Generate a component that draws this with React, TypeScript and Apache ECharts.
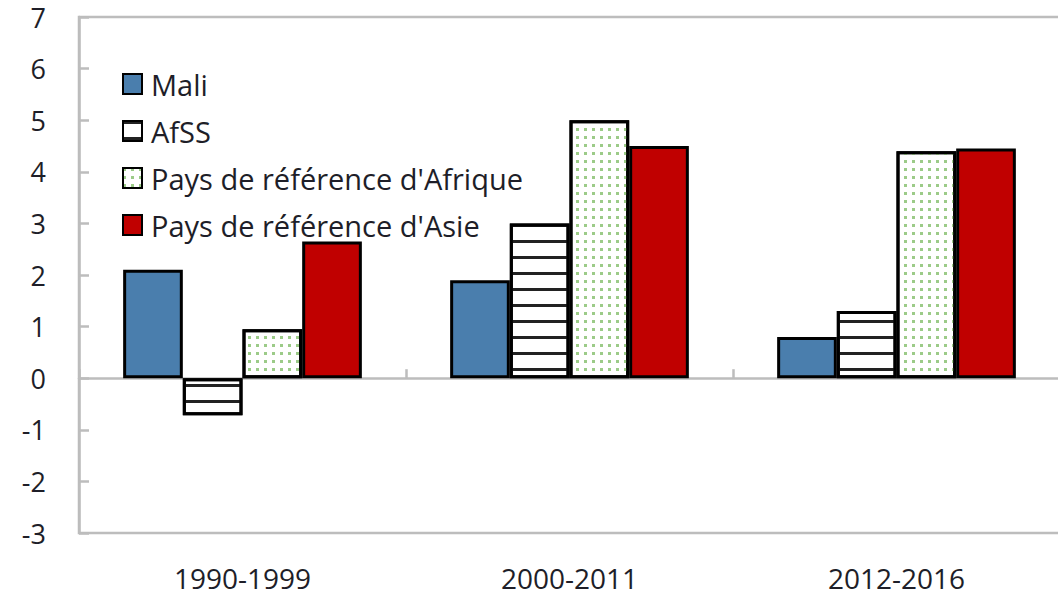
import React, { useEffect, useRef } from 'react';
import * as echarts from 'echarts';

const categories = ['1990-1999', '2000-2011', '2012-2016'];
const seriesNames = ['Mali', 'AfSS', "Pays de référence d'Afrique", "Pays de référence d'Asie"];
const mali = [2.1, 1.9, 0.8];
const afss = [-0.72, 3.0, 1.3];
const afrique = [0.95, 5.0, 4.4];
const asie = [2.65, 4.5, 4.45];
const yMin = -3;
const yMax = 7;
const yInterval = 1;

export default function App() {
  const ref = useRef<HTMLDivElement>(null);
  useEffect(() => {
    const chart = echarts.init(ref.current!, null, { renderer: 'svg' });
    const gray = '#bdbdbd';
    const border = { borderColor: '#000', borderWidth: 3 };
    chart.setOption({
      animation: false,
      backgroundColor: '#fff',
      textStyle: { fontFamily: 'Open Sans' },
      grid: {
        left: 79,
        right: -2,
        top: 17,
        bottom: 64,
        show: true,
        borderColor: gray,
        borderWidth: 2.5,
        containLabel: false,
        outerBoundsMode: 'none',
      },
      legend: {
        orient: 'vertical',
        left: 122,
        top: 69,
        padding: 0,
        itemWidth: 19,
        itemHeight: 20,
        itemGap: 17,
        icon: 'rect',
        data: seriesNames,
        textStyle: { fontSize: 29, lineHeight: 30, color: '#1e1e28', padding: [0, 0, 0, 4] },
      },
      xAxis: [
        {
          type: 'category',
          data: categories,
          position: 'bottom',
          axisLine: { show: false, onZero: false },
          axisTick: { show: false },
          axisLabel: { margin: 31, fontSize: 28, color: '#1e1e28', lineHeight: 28 },
          splitLine: { show: false },
        },
        {
          type: 'category',
          data: categories,
          position: 'top',
          axisLine: { show: true, onZero: true, lineStyle: { color: gray, width: 2.5 } },
          axisTick: { show: true, inside: false, length: 9, lineStyle: { color: gray, width: 2.5 } },
          axisLabel: { show: false },
          splitLine: { show: false },
        },
      ],
      yAxis: {
        type: 'value',
        min: yMin,
        max: yMax,
        interval: yInterval,
        axisLine: { show: true, lineStyle: { color: gray, width: 2.5 } },
        axisTick: { show: true, inside: true, length: 10, lineStyle: { color: gray, width: 2.5 } },
        axisLabel: { margin: 33, fontSize: 27, color: '#1e1e28' },
        splitLine: { show: false },
      },
      series: [
        {
          name: seriesNames[0],
          type: 'bar',
          data: mali,
          barGap: '0%',
          barCategoryGap: '27%',
          itemStyle: { color: '#4a7ead', ...border },
        },
        {
          name: seriesNames[1],
          type: 'bar',
          data: afss,
          itemStyle: {
            color: '#ffffff',
            ...border,
            decal: {
              symbol: 'rect',
              symbolSize: 1,
              color: '#222222',
              dashArrayX: [1, 0],
              dashArrayY: [3, 12.2],
              rotation: 0,
            },
          },
        },
        {
          name: seriesNames[2],
          type: 'bar',
          data: afrique,
          itemStyle: {
            color: '#ffffff',
            ...border,
            decal: {
              symbol: 'rect',
              symbolSize: 1,
              color: '#9ccb88',
              dashArrayX: [3, 5],
              dashArrayY: [3, 5],
              rotation: 0,
            },
          },
        },
        {
          name: seriesNames[3],
          type: 'bar',
          data: asie,
          itemStyle: { color: '#c00000', ...border },
        },
      ],
    });
    return () => chart.dispose();
  }, []);
  return <div ref={ref} style={{ position: 'fixed', left: 0, top: 0, width: 1058, height: 597 }} />;
}
